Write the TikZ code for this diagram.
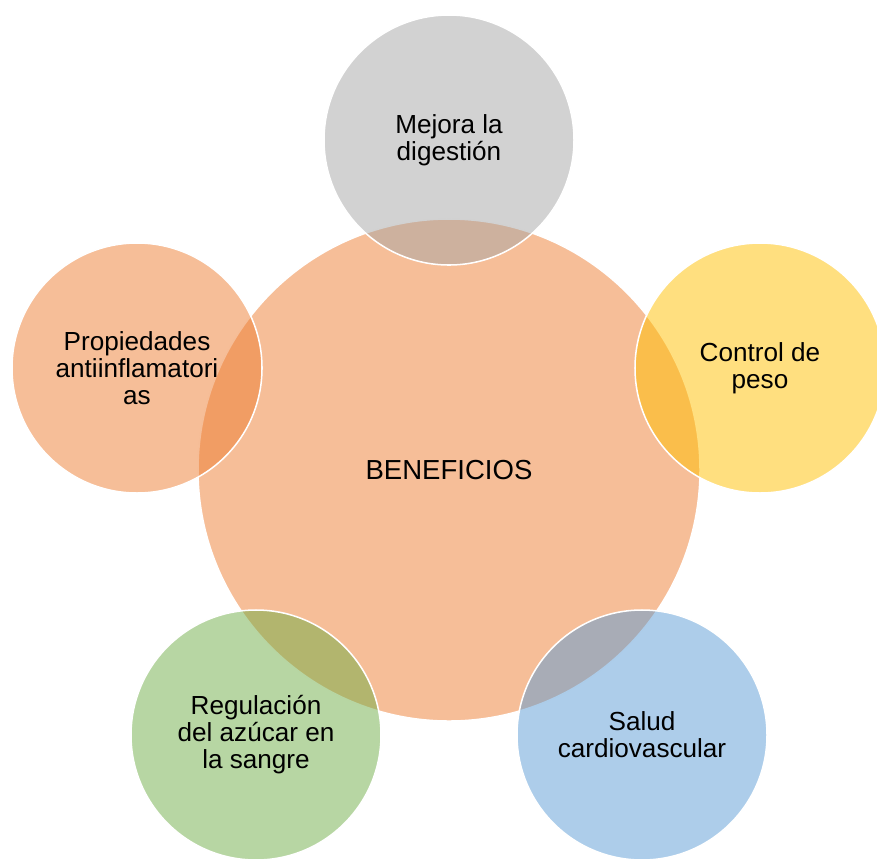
\documentclass[tikz,border=0pt]{standalone}
\usepackage{fontspec}
\setmainfont{Liberation Sans}
\definecolor{orangebase}{HTML}{ED7D31}
\definecolor{greybase}{HTML}{A5A5A5}
\definecolor{goldbase}{HTML}{FFC000}
\definecolor{bluebase}{HTML}{5B9BD5}
\definecolor{greenbase}{HTML}{70AD47}
\begin{document}
\begin{tikzpicture}[x=0.03cm,y=-0.03cm]
    \tikzstyle{petal} = [circle,draw=white,line width=1.3pt,fill opacity=0.5,text opacity=1,minimum size=7.5cm,align=center,inner sep=0pt,font=\fontsize{22.3}{23}\selectfont]
    \useasboundingbox (0,0) rectangle (877,858);
    \clip (0,0) rectangle (877,858);
    \node [petal,fill=orangebase,minimum size=15.06cm,font=\fontsize{23.5}{24}\selectfont] (hub) at (449,470) {BENEFICIOS};
    \node [petal,fill=greybase] (digest) at (449,140) {Mejora la\\digestión};
    \node [petal,fill=goldbase] (peso) at (760,368) {Control de\\peso};
    \node [petal,fill=bluebase] (cardio) at (642,735) {Salud\\cardiovascular};
    \node [petal,fill=greenbase] (azucar) at (256,735) {Regulación\\del azúcar en\\la sangre};
    \node [petal,fill=orangebase] (inflam) at (137,368) {Propiedades\\antiinflamatori\\as};
  \end{tikzpicture}
\end{document}
